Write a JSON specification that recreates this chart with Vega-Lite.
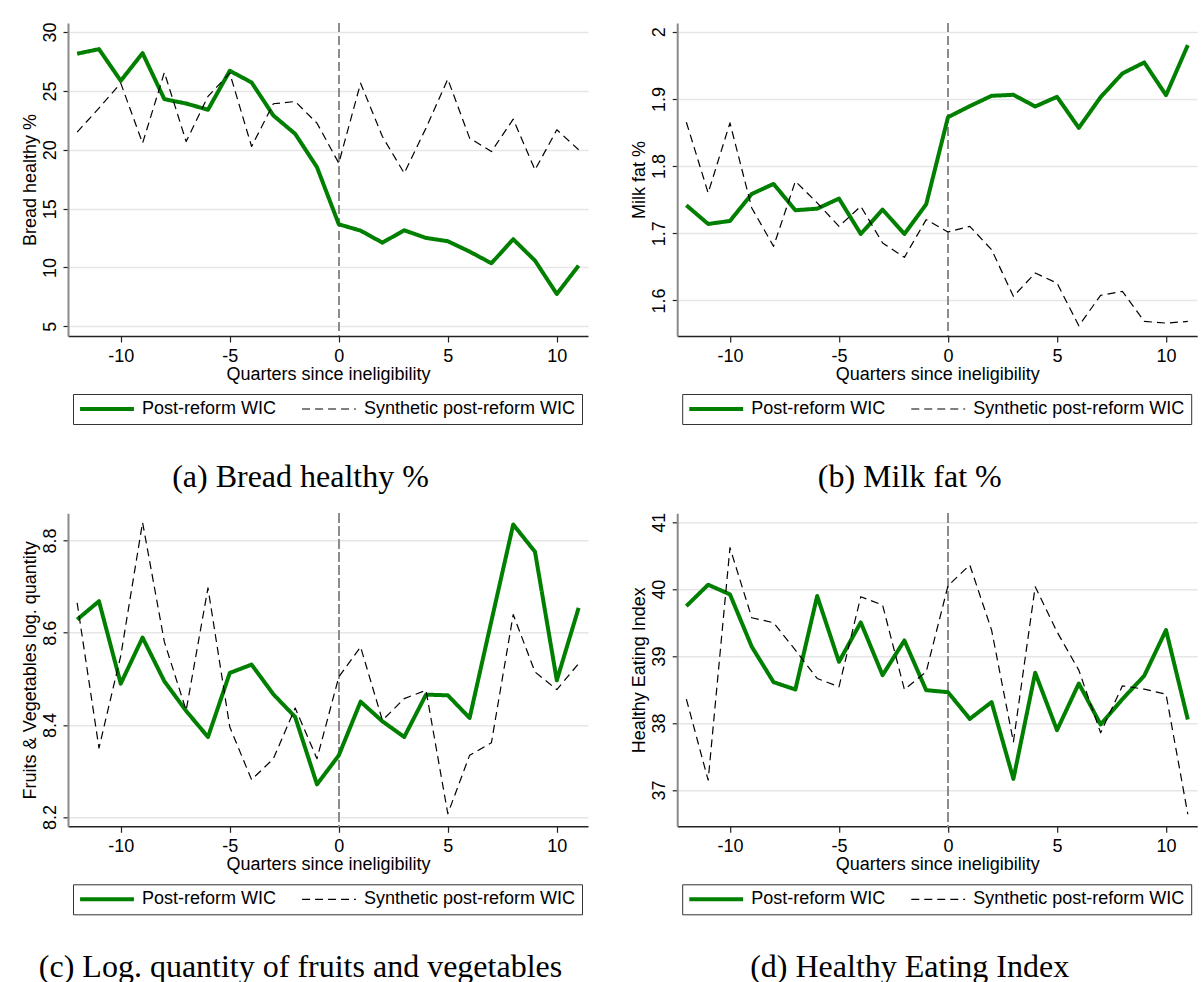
{
  "$schema": "https://vega.github.io/schema/vega-lite/v6.json",
  "padding": {"left": 20, "top": 22, "right": 5, "bottom": 5},
  "background": "white",
  "config": {
    "view": {"stroke": null},
    "font": "Liberation Sans",
    "axis": {"labelFont": "Liberation Sans", "labelFontSize": 18, "titleFont": "Liberation Sans", "titleFontSize": 18, "titleFontWeight": "normal", "labelColor": "#000", "titleColor": "#000", "tickColor": "#222", "tickWidth": 1.2, "labelFlush": false, "labelOverlap": false, "labelExpr": "'' + datum.value"},
    "axisX": {"grid": false, "domainColor": "#222", "domainWidth": 1.5, "tickSize": 6, "labelPadding": 5, "titlePadding": 0},
    "axisY": {"grid": true, "gridColor": "#e6e6e6", "gridWidth": 1.5, "domainColor": "#8a8a8a", "domainWidth": 2, "tickSize": 5, "labelAngle": -90, "labelAlign": "center", "labelBaseline": "bottom", "labelPadding": 4, "titlePadding": 2},
    "legend": {"title": null, "orient": "none", "legendX": 5, "legendY": 371, "direction": "horizontal", "strokeColor": "#333", "padding": 6, "symbolType": "stroke", "symbolSize": 2900, "labelFontSize": 18, "labelFont": "Liberation Sans", "labelColor": "#000", "columnPadding": 24, "labelOffset": 7, "clipHeight": 18, "labelLimit": 400},
    "title": {"orient": "bottom", "font": "Liberation Serif", "fontSize": 32, "fontWeight": "normal", "color": "#000", "anchor": "middle", "frame": "bounds", "offset": 37, "dx": -4}
  },
  "datasets": {
    "a": [
      {"q": -12, "series": "Post-reform WIC", "v": 28.16}, {"q": -11, "series": "Post-reform WIC", "v": 28.55}, {"q": -10, "series": "Post-reform WIC", "v": 25.86}, {"q": -9, "series": "Post-reform WIC", "v": 28.21}, {"q": -8, "series": "Post-reform WIC", "v": 24.30}, {"q": -7, "series": "Post-reform WIC", "v": 23.93}, {"q": -6, "series": "Post-reform WIC", "v": 23.40}, {"q": -5, "series": "Post-reform WIC", "v": 26.71}, {"q": -4, "series": "Post-reform WIC", "v": 25.72}, {"q": -3, "series": "Post-reform WIC", "v": 22.91}, {"q": -2, "series": "Post-reform WIC", "v": 21.35}, {"q": -1, "series": "Post-reform WIC", "v": 18.52}, {"q": 0, "series": "Post-reform WIC", "v": 13.67}, {"q": 1, "series": "Post-reform WIC", "v": 13.13}, {"q": 2, "series": "Post-reform WIC", "v": 12.11}, {"q": 3, "series": "Post-reform WIC", "v": 13.16}, {"q": 4, "series": "Post-reform WIC", "v": 12.51}, {"q": 5, "series": "Post-reform WIC", "v": 12.23}, {"q": 6, "series": "Post-reform WIC", "v": 11.35}, {"q": 7, "series": "Post-reform WIC", "v": 10.36}, {"q": 8, "series": "Post-reform WIC", "v": 12.40}, {"q": 9, "series": "Post-reform WIC", "v": 10.58}, {"q": 10, "series": "Post-reform WIC", "v": 7.75}, {"q": 11, "series": "Post-reform WIC", "v": 10.16},
      {"q": -12, "series": "Synthetic post-reform WIC", "v": 21.50}, {"q": -11, "series": "Synthetic post-reform WIC", "v": 23.54}, {"q": -10, "series": "Synthetic post-reform WIC", "v": 25.66}, {"q": -9, "series": "Synthetic post-reform WIC", "v": 20.56}, {"q": -8, "series": "Synthetic post-reform WIC", "v": 26.57}, {"q": -7, "series": "Synthetic post-reform WIC", "v": 20.70}, {"q": -6, "series": "Synthetic post-reform WIC", "v": 24.53}, {"q": -5, "series": "Synthetic post-reform WIC", "v": 26.51}, {"q": -4, "series": "Synthetic post-reform WIC", "v": 20.28}, {"q": -3, "series": "Synthetic post-reform WIC", "v": 23.91}, {"q": -2, "series": "Synthetic post-reform WIC", "v": 24.10}, {"q": -1, "series": "Synthetic post-reform WIC", "v": 22.26}, {"q": 0, "series": "Synthetic post-reform WIC", "v": 18.86}, {"q": 1, "series": "Synthetic post-reform WIC", "v": 25.66}, {"q": 2, "series": "Synthetic post-reform WIC", "v": 21.13}, {"q": 3, "series": "Synthetic post-reform WIC", "v": 18.01}, {"q": 4, "series": "Synthetic post-reform WIC", "v": 21.84}, {"q": 5, "series": "Synthetic post-reform WIC", "v": 26.00}, {"q": 6, "series": "Synthetic post-reform WIC", "v": 20.99}, {"q": 7, "series": "Synthetic post-reform WIC", "v": 19.85}, {"q": 8, "series": "Synthetic post-reform WIC", "v": 22.60}, {"q": 9, "series": "Synthetic post-reform WIC", "v": 18.29}, {"q": 10, "series": "Synthetic post-reform WIC", "v": 21.70}, {"q": 11, "series": "Synthetic post-reform WIC", "v": 20.00}
    ],
    "b": [
      {"q": -12, "series": "Post-reform WIC", "v": 1.7416}, {"q": -11, "series": "Post-reform WIC", "v": 1.7138}, {"q": -10, "series": "Post-reform WIC", "v": 1.7183}, {"q": -9, "series": "Post-reform WIC", "v": 1.7585}, {"q": -8, "series": "Post-reform WIC", "v": 1.7734}, {"q": -7, "series": "Post-reform WIC", "v": 1.7342}, {"q": -6, "series": "Post-reform WIC", "v": 1.7366}, {"q": -5, "series": "Post-reform WIC", "v": 1.7516}, {"q": -4, "series": "Post-reform WIC", "v": 1.6989}, {"q": -3, "series": "Post-reform WIC", "v": 1.7352}, {"q": -2, "series": "Post-reform WIC", "v": 1.6989}, {"q": -1, "series": "Post-reform WIC", "v": 1.7431}, {"q": 0, "series": "Post-reform WIC", "v": 1.8728}, {"q": 1, "series": "Post-reform WIC", "v": 1.8892}, {"q": 2, "series": "Post-reform WIC", "v": 1.9046}, {"q": 3, "series": "Post-reform WIC", "v": 1.9061}, {"q": 4, "series": "Post-reform WIC", "v": 1.8887}, {"q": 5, "series": "Post-reform WIC", "v": 1.9031}, {"q": 6, "series": "Post-reform WIC", "v": 1.8569}, {"q": 7, "series": "Post-reform WIC", "v": 1.9026}, {"q": 8, "series": "Post-reform WIC", "v": 1.9379}, {"q": 9, "series": "Post-reform WIC", "v": 1.9543}, {"q": 10, "series": "Post-reform WIC", "v": 1.9056}, {"q": 11, "series": "Post-reform WIC", "v": 1.9801},
      {"q": -12, "series": "Synthetic post-reform WIC", "v": 1.8653}, {"q": -11, "series": "Synthetic post-reform WIC", "v": 1.7600}, {"q": -10, "series": "Synthetic post-reform WIC", "v": 1.8643}, {"q": -9, "series": "Synthetic post-reform WIC", "v": 1.7376}, {"q": -8, "series": "Synthetic post-reform WIC", "v": 1.6805}, {"q": -7, "series": "Synthetic post-reform WIC", "v": 1.7774}, {"q": -6, "series": "Synthetic post-reform WIC", "v": 1.7451}, {"q": -5, "series": "Synthetic post-reform WIC", "v": 1.7103}, {"q": -4, "series": "Synthetic post-reform WIC", "v": 1.7401}, {"q": -3, "series": "Synthetic post-reform WIC", "v": 1.6855}, {"q": -2, "series": "Synthetic post-reform WIC", "v": 1.6641}, {"q": -1, "series": "Synthetic post-reform WIC", "v": 1.7202}, {"q": 0, "series": "Synthetic post-reform WIC", "v": 1.7019}, {"q": 1, "series": "Synthetic post-reform WIC", "v": 1.7103}, {"q": 2, "series": "Synthetic post-reform WIC", "v": 1.6755}, {"q": 3, "series": "Synthetic post-reform WIC", "v": 1.6060}, {"q": 4, "series": "Synthetic post-reform WIC", "v": 1.6407}, {"q": 5, "series": "Synthetic post-reform WIC", "v": 1.6258}, {"q": 6, "series": "Synthetic post-reform WIC", "v": 1.5622}, {"q": 7, "series": "Synthetic post-reform WIC", "v": 1.6075}, {"q": 8, "series": "Synthetic post-reform WIC", "v": 1.6134}, {"q": 9, "series": "Synthetic post-reform WIC", "v": 1.5687}, {"q": 10, "series": "Synthetic post-reform WIC", "v": 1.5662}, {"q": 11, "series": "Synthetic post-reform WIC", "v": 1.5687}
    ],
    "c": [
      {"q": -12, "series": "Post-reform WIC", "v": 8.6285}, {"q": -11, "series": "Post-reform WIC", "v": 8.6683}, {"q": -10, "series": "Post-reform WIC", "v": 8.4895}, {"q": -9, "series": "Post-reform WIC", "v": 8.5894}, {"q": -8, "series": "Post-reform WIC", "v": 8.4946}, {"q": -7, "series": "Post-reform WIC", "v": 8.4302}, {"q": -6, "series": "Post-reform WIC", "v": 8.3737}, {"q": -5, "series": "Post-reform WIC", "v": 8.5127}, {"q": -4, "series": "Post-reform WIC", "v": 8.5308}, {"q": -3, "series": "Post-reform WIC", "v": 8.4664}, {"q": -2, "series": "Post-reform WIC", "v": 8.4171}, {"q": -1, "series": "Post-reform WIC", "v": 8.2709}, {"q": 0, "series": "Post-reform WIC", "v": 8.3339}, {"q": 1, "series": "Post-reform WIC", "v": 8.4504}, {"q": 2, "series": "Post-reform WIC", "v": 8.4077}, {"q": 3, "series": "Post-reform WIC", "v": 8.3737}, {"q": 4, "series": "Post-reform WIC", "v": 8.4656}, {"q": 5, "series": "Post-reform WIC", "v": 8.4642}, {"q": 6, "series": "Post-reform WIC", "v": 8.4150}, {"q": 7, "series": "Post-reform WIC", "v": 8.6256}, {"q": 8, "series": "Post-reform WIC", "v": 8.8347}, {"q": 9, "series": "Post-reform WIC", "v": 8.7754}, {"q": 10, "series": "Post-reform WIC", "v": 8.4967}, {"q": 11, "series": "Post-reform WIC", "v": 8.6538},
      {"q": -12, "series": "Synthetic post-reform WIC", "v": 8.6647}, {"q": -11, "series": "Synthetic post-reform WIC", "v": 8.3498}, {"q": -10, "series": "Synthetic post-reform WIC", "v": 8.55}, {"q": -9, "series": "Synthetic post-reform WIC", "v": 8.8391}, {"q": -8, "series": "Synthetic post-reform WIC", "v": 8.5800}, {"q": -7, "series": "Synthetic post-reform WIC", "v": 8.4316}, {"q": -6, "series": "Synthetic post-reform WIC", "v": 8.6972}, {"q": -5, "series": "Synthetic post-reform WIC", "v": 8.3954}, {"q": -4, "series": "Synthetic post-reform WIC", "v": 8.2811}, {"q": -3, "series": "Synthetic post-reform WIC", "v": 8.3267}, {"q": -2, "series": "Synthetic post-reform WIC", "v": 8.4367}, {"q": -1, "series": "Synthetic post-reform WIC", "v": 8.3267}, {"q": 0, "series": "Synthetic post-reform WIC", "v": 8.5040}, {"q": 1, "series": "Synthetic post-reform WIC", "v": 8.5691}, {"q": 2, "series": "Synthetic post-reform WIC", "v": 8.4099}, {"q": 3, "series": "Synthetic post-reform WIC", "v": 8.4569}, {"q": 4, "series": "Synthetic post-reform WIC", "v": 8.4750}, {"q": 5, "series": "Synthetic post-reform WIC", "v": 8.2072}, {"q": 6, "series": "Synthetic post-reform WIC", "v": 8.3339}, {"q": 7, "series": "Synthetic post-reform WIC", "v": 8.3614}, {"q": 8, "series": "Synthetic post-reform WIC", "v": 8.6393}, {"q": 9, "series": "Synthetic post-reform WIC", "v": 8.5148}, {"q": 10, "series": "Synthetic post-reform WIC", "v": 8.4765}, {"q": 11, "series": "Synthetic post-reform WIC", "v": 8.5329}
    ],
    "d": [
      {"q": -12, "series": "Post-reform WIC", "v": 39.748}, {"q": -11, "series": "Post-reform WIC", "v": 40.067}, {"q": -10, "series": "Post-reform WIC", "v": 39.923}, {"q": -9, "series": "Post-reform WIC", "v": 39.140}, {"q": -8, "series": "Post-reform WIC", "v": 38.611}, {"q": -7, "series": "Post-reform WIC", "v": 38.501}, {"q": -6, "series": "Post-reform WIC", "v": 39.898}, {"q": -5, "series": "Post-reform WIC", "v": 38.915}, {"q": -4, "series": "Post-reform WIC", "v": 39.504}, {"q": -3, "series": "Post-reform WIC", "v": 38.716}, {"q": -2, "series": "Post-reform WIC", "v": 39.234}, {"q": -1, "series": "Post-reform WIC", "v": 38.491}, {"q": 0, "series": "Post-reform WIC", "v": 38.461}, {"q": 1, "series": "Post-reform WIC", "v": 38.062}, {"q": 2, "series": "Post-reform WIC", "v": 38.312}, {"q": 3, "series": "Post-reform WIC", "v": 37.165}, {"q": 4, "series": "Post-reform WIC", "v": 38.751}, {"q": 5, "series": "Post-reform WIC", "v": 37.893}, {"q": 6, "series": "Post-reform WIC", "v": 38.591}, {"q": 7, "series": "Post-reform WIC", "v": 37.978}, {"q": 8, "series": "Post-reform WIC", "v": 38.357}, {"q": 9, "series": "Post-reform WIC", "v": 38.706}, {"q": 10, "series": "Post-reform WIC", "v": 39.389}, {"q": 11, "series": "Post-reform WIC", "v": 38.052},
      {"q": -12, "series": "Synthetic post-reform WIC", "v": 38.357}, {"q": -11, "series": "Synthetic post-reform WIC", "v": 37.145}, {"q": -10, "series": "Synthetic post-reform WIC", "v": 40.621}, {"q": -9, "series": "Synthetic post-reform WIC", "v": 39.574}, {"q": -8, "series": "Synthetic post-reform WIC", "v": 39.499}, {"q": -7, "series": "Synthetic post-reform WIC", "v": 39.090}, {"q": -6, "series": "Synthetic post-reform WIC", "v": 38.666}, {"q": -5, "series": "Synthetic post-reform WIC", "v": 38.541}, {"q": -4, "series": "Synthetic post-reform WIC", "v": 39.888}, {"q": -3, "series": "Synthetic post-reform WIC", "v": 39.763}, {"q": -2, "series": "Synthetic post-reform WIC", "v": 38.501}, {"q": -1, "series": "Synthetic post-reform WIC", "v": 38.766}, {"q": 0, "series": "Synthetic post-reform WIC", "v": 40.052}, {"q": 1, "series": "Synthetic post-reform WIC", "v": 40.362}, {"q": 2, "series": "Synthetic post-reform WIC", "v": 39.389}, {"q": 3, "series": "Synthetic post-reform WIC", "v": 37.718}, {"q": 4, "series": "Synthetic post-reform WIC", "v": 40.037}, {"q": 5, "series": "Synthetic post-reform WIC", "v": 39.364}, {"q": 6, "series": "Synthetic post-reform WIC", "v": 38.790}, {"q": 7, "series": "Synthetic post-reform WIC", "v": 37.853}, {"q": 8, "series": "Synthetic post-reform WIC", "v": 38.556}, {"q": 9, "series": "Synthetic post-reform WIC", "v": 38.506}, {"q": 10, "series": "Synthetic post-reform WIC", "v": 38.431}, {"q": 11, "series": "Synthetic post-reform WIC", "v": 36.636}
    ]
  },
  "concat": [
    {
      "width": 520, "height": 313,
      "title": {"text": "(a) Bread healthy %"},
      "data": {"name": "a"},
      "layer": [
        {"mark": {"type": "rule", "color": "#8c8c8c", "strokeDash": [9, 4], "strokeWidth": 1.5}, "encoding": {"x": {"datum": 0, "type": "quantitative"}}},
        {
          "mark": {"type": "line", "strokeJoin": "round"},
          "encoding": {
            "x": {"field": "q", "type": "quantitative", "scale": {"domain": [-12.42, 11.43], "nice": false, "zero": false}, "axis": {"values": [-10, -5, 0, 5, 10], "title": "Quarters since ineligibility"}},
            "y": {"field": "v", "type": "quantitative", "scale": {"domain": [4.18, 30.77], "nice": false, "zero": false}, "axis": {"values": [5, 10, 15, 20, 25, 30], "title": "Bread healthy %"}},
            "color": {"field": "series", "type": "nominal", "scale": {"domain": ["Post-reform WIC", "Synthetic post-reform WIC"], "range": ["#007f00", "#000000"]}, "legend": {"encode": {"symbols": {"update": {"strokeWidth": {"signal": "(datum.value === 'Post-reform WIC' ? 4 : 1.2)"}, "strokeDash": {"signal": "(datum.value === 'Post-reform WIC' ? [1, 0] : [8, 5])"}}}}}},
            "strokeDash": {"field": "series", "type": "nominal", "scale": {"domain": ["Post-reform WIC", "Synthetic post-reform WIC"], "range": [[1, 0], [8, 5]]}, "legend": null},
            "strokeWidth": {"condition": {"test": "datum.series === 'Post-reform WIC'", "value": 4}, "value": 1.2}
          }
        }
      ]
    },
    {
      "width": 520, "height": 313,
      "title": {"text": "(b) Milk fat %"},
      "data": {"name": "b"},
      "layer": [
        {"mark": {"type": "rule", "color": "#8c8c8c", "strokeDash": [9, 4], "strokeWidth": 1.5}, "encoding": {"x": {"datum": 0, "type": "quantitative"}}},
        {
          "mark": {"type": "line", "strokeJoin": "round"},
          "encoding": {
            "x": {"field": "q", "type": "quantitative", "scale": {"domain": [-12.42, 11.43], "nice": false, "zero": false}, "axis": {"values": [-10, -5, 0, 5, 10], "title": "Quarters since ineligibility"}},
            "y": {"field": "v", "type": "quantitative", "scale": {"domain": [1.547, 2.013], "nice": false, "zero": false}, "axis": {"values": [1.6, 1.7, 1.8, 1.9, 2], "title": "Milk fat %"}},
            "color": {"field": "series", "type": "nominal", "scale": {"domain": ["Post-reform WIC", "Synthetic post-reform WIC"], "range": ["#007f00", "#000000"]}, "legend": {"encode": {"symbols": {"update": {"strokeWidth": {"signal": "(datum.value === 'Post-reform WIC' ? 4 : 1.2)"}, "strokeDash": {"signal": "(datum.value === 'Post-reform WIC' ? [1, 0] : [8, 5])"}}}}}},
            "strokeDash": {"field": "series", "type": "nominal", "scale": {"domain": ["Post-reform WIC", "Synthetic post-reform WIC"], "range": [[1, 0], [8, 5]]}, "legend": null},
            "strokeWidth": {"condition": {"test": "datum.series === 'Post-reform WIC'", "value": 4}, "value": 1.2}
          }
        }
      ]
    },
    {
      "width": 520, "height": 313,
      "title": {"text": "(c) Log. quantity of fruits and vegetables"},
      "data": {"name": "c"},
      "layer": [
        {"mark": {"type": "rule", "color": "#8c8c8c", "strokeDash": [9, 4], "strokeWidth": 1.5}, "encoding": {"x": {"datum": 0, "type": "quantitative"}}},
        {
          "mark": {"type": "line", "strokeJoin": "round"},
          "encoding": {
            "x": {"field": "q", "type": "quantitative", "scale": {"domain": [-12.42, 11.43], "nice": false, "zero": false}, "axis": {"values": [-10, -5, 0, 5, 10], "title": "Quarters since ineligibility"}},
            "y": {"field": "v", "type": "quantitative", "scale": {"domain": [8.18, 8.859], "nice": false, "zero": false}, "axis": {"values": [8.2, 8.4, 8.6, 8.8], "title": "Fruits & Vegetables log. quantity"}},
            "color": {"field": "series", "type": "nominal", "scale": {"domain": ["Post-reform WIC", "Synthetic post-reform WIC"], "range": ["#007f00", "#000000"]}, "legend": {"encode": {"symbols": {"update": {"strokeWidth": {"signal": "(datum.value === 'Post-reform WIC' ? 4 : 1.2)"}, "strokeDash": {"signal": "(datum.value === 'Post-reform WIC' ? [1, 0] : [8, 5])"}}}}}},
            "strokeDash": {"field": "series", "type": "nominal", "scale": {"domain": ["Post-reform WIC", "Synthetic post-reform WIC"], "range": [[1, 0], [8, 5]]}, "legend": null},
            "strokeWidth": {"condition": {"test": "datum.series === 'Post-reform WIC'", "value": 4}, "value": 1.2}
          }
        }
      ]
    },
    {
      "width": 520, "height": 313,
      "title": {"text": "(d) Healthy Eating Index"},
      "data": {"name": "d"},
      "layer": [
        {"mark": {"type": "rule", "color": "#8c8c8c", "strokeDash": [9, 4], "strokeWidth": 1.5}, "encoding": {"x": {"datum": 0, "type": "quantitative"}}},
        {
          "mark": {"type": "line", "strokeJoin": "round"},
          "encoding": {
            "x": {"field": "q", "type": "quantitative", "scale": {"domain": [-12.42, 11.43], "nice": false, "zero": false}, "axis": {"values": [-10, -5, 0, 5, 10], "title": "Quarters since ineligibility"}},
            "y": {"field": "v", "type": "quantitative", "scale": {"domain": [36.456, 41.135], "nice": false, "zero": false}, "axis": {"values": [37, 38, 39, 40, 41], "title": "Healthy Eating Index"}},
            "color": {"field": "series", "type": "nominal", "scale": {"domain": ["Post-reform WIC", "Synthetic post-reform WIC"], "range": ["#007f00", "#000000"]}, "legend": {"encode": {"symbols": {"update": {"strokeWidth": {"signal": "(datum.value === 'Post-reform WIC' ? 4 : 1.2)"}, "strokeDash": {"signal": "(datum.value === 'Post-reform WIC' ? [1, 0] : [8, 5])"}}}}}},
            "strokeDash": {"field": "series", "type": "nominal", "scale": {"domain": ["Post-reform WIC", "Synthetic post-reform WIC"], "range": [[1, 0], [8, 5]]}, "legend": null},
            "strokeWidth": {"condition": {"test": "datum.series === 'Post-reform WIC'", "value": 4}, "value": 1.2}
          }
        }
      ]
    }
  ],
  "columns": 2,
  "spacing": {"row": 177.3, "column": 89.2},
  "bounds": "flush",
  "resolve": {"scale": {"color": "independent", "strokeDash": "independent"}, "legend": {"color": "independent"}}
}
